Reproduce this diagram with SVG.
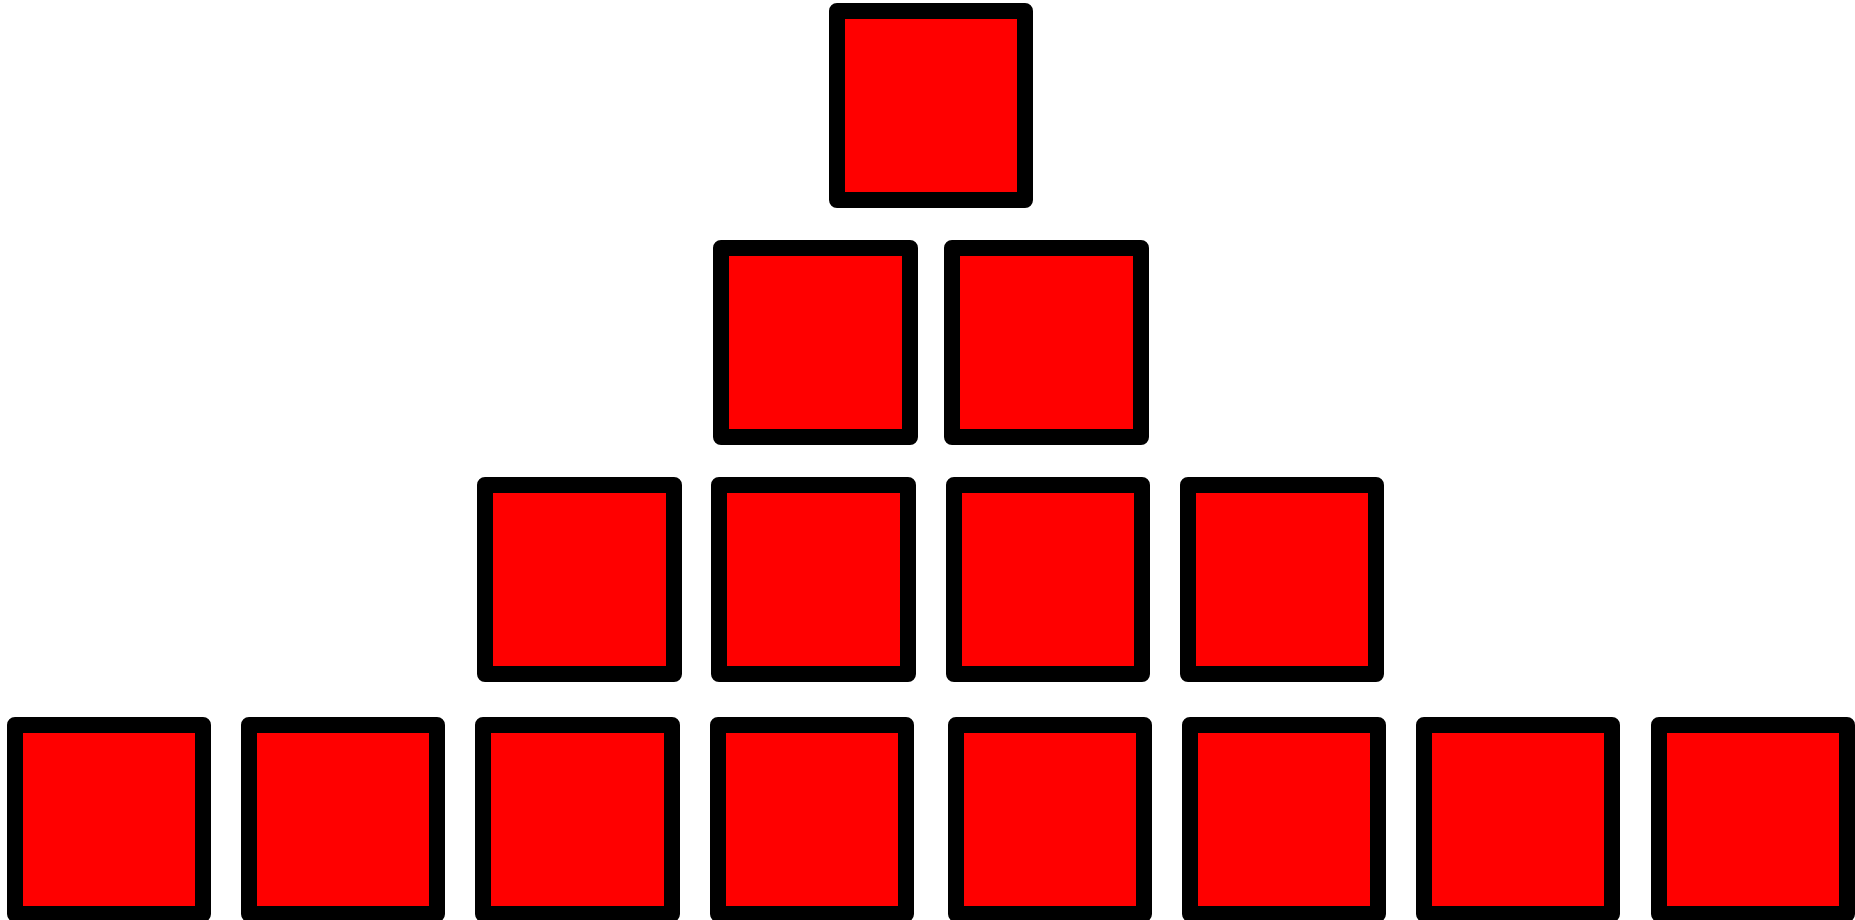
<svg xmlns="http://www.w3.org/2000/svg" width="1855" height="920" viewBox="0 0 1855 920">
<style>
.box{fill:#ff0000;stroke:#000000;stroke-width:16;stroke-linejoin:round}
</style>
<rect width="1855" height="920" fill="#ffffff"/>
<g id="connectors"></g>
<g id="n1"><rect class="box" x="837" y="11" width="188" height="189"/></g>
<g id="n2"><rect class="box" x="721" y="248" width="189" height="189"/></g>
<g id="n3"><rect class="box" x="952" y="248" width="189" height="189"/></g>
<g id="n4"><rect class="box" x="485" y="485" width="189" height="189"/></g>
<g id="n5"><rect class="box" x="719" y="485" width="189" height="189"/></g>
<g id="n6"><rect class="box" x="954" y="485" width="188" height="189"/></g>
<g id="n7"><rect class="box" x="1188" y="485" width="188" height="189"/></g>
<g id="n8"><rect class="box" x="15" y="725" width="188" height="189"/></g>
<g id="n9"><rect class="box" x="249" y="725" width="188" height="189"/></g>
<g id="n10"><rect class="box" x="483" y="725" width="189" height="189"/></g>
<g id="n11"><rect class="box" x="718" y="725" width="188" height="189"/></g>
<g id="n12"><rect class="box" x="956" y="725" width="188" height="189"/></g>
<g id="n13"><rect class="box" x="1190" y="725" width="188" height="189"/></g>
<g id="n14"><rect class="box" x="1424" y="725" width="188" height="189"/></g>
<g id="n15"><rect class="box" x="1659" y="725" width="188" height="189"/></g>
</svg>
